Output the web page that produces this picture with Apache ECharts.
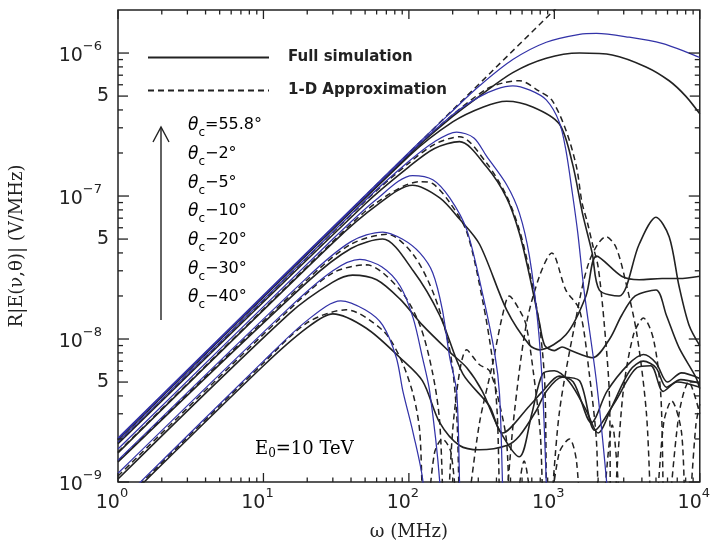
<!DOCTYPE html>
<html>
<head>
<meta charset="utf-8">
<script src="https://cdn.jsdelivr.net/npm/echarts/dist/echarts.min.js"></script>
<style>
  html, body { margin: 0; padding: 0; background: #fff; }
  #chart { width: 713px; height: 546px; }
</style>
</head>
<body>
<div id="chart"></div>
<script>
// Electric field spectrum R|E(nu,theta)| versus frequency, E0 = 10 TeV shower.
// Each observation angle has three curves: full simulation (solid black),
// 1-D approximation (dashed black) and a thin blue parametrisation.

const angles = ['55.8', '2', '5', '10', '20', '30', '40'];
const angleTexts = ['=55.8°', '−2°', '−5°', '−10°', '−20°', '−30°', '−40°'];

// [frequency (MHz), field (V/MHz)]
const sim_558 = [[1,2.0e-9],[100,1.95e-7],[200,3.6e-7],[306,5.0e-7],[518,7.3e-7],[880,9.2e-7],[1490,1.0e-6],[2500,9.7e-7],[4270,8.0e-7],[6160,6.4e-7],[8000,5.0e-7],[10000,3.76e-7]];
const oneD_558 = [[1,2.0e-9],[1000,2.0e-6],[1300,2.6e-6]];
const par_558 = [[1,2.03e-9],[100,2.02e-7],[200,3.95e-7],[306,5.9e-7],[518,9.0e-7],[880,1.19e-6],[1490,1.35e-6],[1950,1.37e-6],[3270,1.29e-6],[5500,1.17e-6],[8440,1.0e-6],[10000,0.93e-6]];

const sim_2 = [[1,1.97e-9],[100,1.9e-7],[200,3.3e-7],[325,4.2e-7],[470,4.6e-7],[710,4.2e-7],[1080,3.2e-7],[1330,1.7e-7],[1560,7.6e-8],[1820,4.0e-8],[2040,2.2e-8],[2790,2.0e-8],[3830,4.6e-8],[5000,7.1e-8],[6160,5.2e-8],[7200,2.35e-8],[8440,1.25e-8],[10000,9.0e-9]];
const oneD_2 = [[1,1.97e-9],[100,1.95e-7],[200,3.7e-7],[342,5.6e-7],[450,6.2e-7],[575,6.4e-7],[790,5.4e-7],[960,4.7e-7],[1200,2.9e-7],[1420,1.6e-7],[1550,9.0e-8],[1690,6.5e-8],[1830,4.6e-8],[2000,3.2e-8],[2200,1.3e-8],[2390,4.1e-9],[2470,4e-10],[2960,4.1e-9],[3500,1.07e-8],[4100,1.4e-8],[4800,1.0e-8],[5400,4.0e-9],[5800,4e-10],[7200,3.0e-9],[8400,5.0e-9],[10000,3.0e-9]];
const par_2 = [[1,2.0e-9],[100,1.97e-7],[200,3.7e-7],[300,4.9e-7],[400,5.6e-7],[518,5.9e-7],[680,5.5e-7],[880,4.7e-7],[1080,3.3e-7],[1200,2.1e-7],[1330,1.05e-7],[1450,5.5e-8],[1600,2.2e-8],[1950,5.0e-9],[2270,1.1e-9],[2450,4e-10]];

const sim_5 = [[1,1.85e-9],[50,8.8e-8],[100,1.6e-7],[150,2.15e-7],[223,2.4e-7],[342,1.6e-7],[470,9.7e-8],[575,5.5e-8],[674,2.8e-8],[790,1.3e-8],[860,9.0e-9],[1000,8.3e-9],[1130,8.8e-9],[1300,8.3e-9],[1830,7.4e-9],[2400,1.0e-8],[2900,1.46e-8],[3600,2.0e-8],[5000,2.2e-8],[5900,1.46e-8],[7200,8.7e-9],[9400,5.4e-9],[10000,4.5e-9]];
const oneD_5 = [[1,1.88e-9],[50,9.2e-8],[100,1.7e-7],[150,2.3e-7],[223,2.6e-7],[342,1.7e-7],[470,1.0e-7],[575,5.8e-8],[674,3.0e-8],[790,1.25e-8],[860,4.8e-9],[905,4e-10],[1080,3.0e-9],[1380,1.25e-8],[1740,3.5e-8],[2270,5.2e-8],[2650,4.4e-8],[3100,2.5e-8],[3700,1.07e-8],[4300,3.0e-9],[4800,4e-10],[5650,2.6e-9],[6400,3.7e-9],[7500,2.2e-9],[8100,4e-10],[9400,2.5e-9],[10000,3.5e-9]];
const par_5 = [[1,1.9e-9],[50,9.3e-8],[100,1.75e-7],[150,2.4e-7],[213,2.8e-7],[280,2.55e-7],[342,1.9e-7],[470,1.2e-7],[575,7.6e-8],[674,3.8e-8],[770,1.3e-8],[830,4.5e-9],[880,1.0e-9],[910,3e-10]];

const sim_10 = [[1,1.6e-9],[30,4.7e-8],[60,8.6e-8],[106,1.19e-7],[163,9.7e-8],[223,6.9e-8],[306,4.6e-8],[470,1.6e-8],[674,9.1e-9],[790,8.4e-9],[1200,1.07e-8],[1650,2.0e-8],[1950,3.8e-8],[2900,2.75e-8],[3830,2.6e-8],[5500,2.65e-8],[7200,2.65e-8],[10000,2.75e-8]];
const oneD_10 = [[1,1.62e-9],[30,4.8e-8],[60,9.0e-8],[119,1.26e-7],[146,1.22e-7],[191,9.0e-8],[250,5.6e-8],[320,1.9e-8],[375,7.2e-9],[405,3.0e-9],[435,4e-10],[530,3.0e-9],[640,1.25e-8],[790,2.75e-8],[960,4.0e-8],[1200,2.2e-8],[1490,1.6e-8],[1740,5.7e-9],[1950,1.9e-9],[2050,4e-10],[2500,2.5e-9],[2900,4e-10]];
const par_10 = [[1,1.7e-9],[30,5.0e-8],[60,9.5e-8],[106,1.39e-7],[146,1.3e-7],[191,9.7e-8],[250,5.8e-8],[320,2.1e-8],[390,7.8e-9],[420,4.1e-9],[440,1.0e-9],[455,3e-10]];

const sim_20 = [[1,1.38e-9],[20,2.5e-8],[40,4.3e-8],[66,5.0e-8],[107,3.0e-8],[163,1.46e-8],[235,5.7e-9],[358,3.4e-9],[440,2.2e-9],[674,3.4e-9],[830,4.3e-9],[1080,5.5e-9],[1350,5.0e-9],[1800,2.6e-9],[2300,4.3e-9],[3200,6.6e-9],[4100,7.8e-9],[5000,6.8e-9],[6000,5.0e-9],[7500,5.8e-9],[10000,5.3e-9]];
const oneD_20 = [[1,1.4e-9],[20,2.6e-8],[40,4.6e-8],[71,5.4e-8],[107,3.9e-8],[150,2.0e-8],[191,8.4e-9],[213,3.0e-9],[232,4e-10],[306,2.6e-9],[375,6.6e-9],[440,1.46e-8],[490,2.0e-8],[575,1.6e-8],[640,1.25e-8],[720,5.7e-9],[800,2.2e-9],[870,4e-10],[1080,1.6e-9],[1270,2.0e-9],[1420,1.4e-9],[1530,4e-10]];
const par_20 = [[1,1.42e-9],[20,2.7e-8],[40,4.8e-8],[66,5.6e-8],[90,5.0e-8],[119,4.0e-8],[146,2.9e-8],[170,1.6e-8],[191,7.4e-9],[213,4.3e-9],[223,1.0e-9],[230,3e-10]];

const sim_30 = [[1,1.05e-9],[15,1.5e-8],[30,2.5e-8],[41,2.8e-8],[60,2.6e-8],[87,1.9e-8],[124,1.25e-8],[191,8.1e-9],[250,6.3e-9],[320,4.3e-9],[420,2.3e-9],[575,1.5e-9],[700,3.0e-9],[830,5.7e-9],[1000,6.0e-9],[1270,5.0e-9],[1650,3.2e-9],[2000,2.2e-9],[2500,3.4e-9],[3300,6.0e-9],[4100,7.0e-9],[5000,6.3e-9],[5900,4.6e-9],[7400,5.2e-9],[10000,4.9e-9]];
const oneD_30 = [[1,1.1e-9],[15,1.6e-8],[30,2.9e-8],[51,3.3e-8],[87,2.2e-8],[119,1.25e-8],[146,5.7e-9],[163,2.6e-9],[178,4e-10],[205,3.0e-9],[250,8.4e-9],[306,6.6e-9],[358,6.0e-9],[420,3.5e-9],[470,1.9e-9],[510,4e-10],[620,1.4e-9],[730,4e-10]];
const par_30 = [[1,1.15e-9],[15,1.65e-8],[30,3.0e-8],[46,3.6e-8],[65,3.2e-8],[87,2.35e-8],[107,1.4e-8],[124,7.4e-9],[139,4.3e-9],[163,1.0e-9],[170,3e-10]];

const sim_40 = [[1,6.6e-10],[10,6.5e-9],[20,1.2e-8],[30,1.5e-8],[51,1.19e-8],[87,7.4e-9],[124,5.1e-9],[163,2.6e-9],[223,1.8e-9],[306,1.68e-9],[470,1.8e-9],[575,2.1e-9],[750,3.15e-9],[880,4.3e-9],[1130,5.4e-9],[1490,5.1e-9],[1900,2.3e-9],[2600,3.6e-9],[3700,6.3e-9],[4600,6.5e-9],[5600,4.3e-9],[7000,5.0e-9],[10000,4.6e-9]];
const oneD_40 = [[1,6.8e-10],[10,6.8e-9],[20,1.3e-8],[37,1.6e-8],[66,1.15e-8],[87,7.4e-9],[107,4.1e-9],[119,2.2e-9],[128,4e-10],[150,1.6e-9],[170,2.0e-9],[195,1.6e-9],[220,4e-10]];
const par_40 = [[1,7.0e-10],[10,7.0e-9],[20,1.35e-8],[34,1.85e-8],[50,1.6e-8],[66,1.25e-8],[82,7.4e-9],[91,4.3e-9],[107,2.2e-9],[125,1.0e-9],[132,3e-10]];

const simCurves = [sim_558, sim_2, sim_5, sim_10, sim_20, sim_30, sim_40];
const oneDCurves = [oneD_558, oneD_2, oneD_5, oneD_10, oneD_20, oneD_30, oneD_40];
const parCurves = [par_558, par_2, par_5, par_10, par_20, par_30, par_40];

// Axis ranges and tick positions
const xMin = 1, xMax = 1e4;
const yMin = 1e-9, yMax = 2e-6;
const xMajorTicks = [1, 10, 100, 1000, 10000];
const yMajorTicks = [1e-9, 1e-8, 1e-7, 1e-6];
const yFiveTicks = [5e-9, 5e-8, 5e-7];

const INK = '#222';
const BLUE = '#3333a8';
const tickFont = 'DejaVu Sans';
const serifFont = 'DejaVu Serif';

// tick descriptors for the framed axes (ticks on all four sides)
const ticks = [];
xMajorTicks.forEach(v => ticks.push({ axis: 'x', v: v, len: 9 }));
for (let k = 0; k < 4; k++) {
  for (let m = 2; m <= 9; m++) ticks.push({ axis: 'x', v: m * Math.pow(10, k), len: 4.5 });
}
yMajorTicks.forEach(v => ticks.push({ axis: 'y', v: v, len: 11 }));
yFiveTicks.forEach(v => ticks.push({ axis: 'y', v: v, len: 10, label: '5' }));
for (let e = -9; e <= -7; e++) {
  [2, 3, 4, 6, 7, 8, 9].forEach(m => ticks.push({ axis: 'y', v: m * Math.pow(10, e), len: 5 }));
}

function renderTick(params, api) {
  const t = ticks[params.dataIndex];
  const cs = params.coordSys;
  const st = { stroke: INK, lineWidth: 1.3 };
  if (t.axis === 'x') {
    const px = api.coord([t.v, yMin])[0];
    const yb = cs.y + cs.height, yt = cs.y;
    return { type: 'group', children: [
      { type: 'line', shape: { x1: px, y1: yb, x2: px, y2: yb - t.len }, style: st },
      { type: 'line', shape: { x1: px, y1: yt, x2: px, y2: yt + t.len }, style: st }
    ] };
  }
  const py = api.coord([xMin, t.v])[1];
  const xl = cs.x, xr = cs.x + cs.width;
  const children = [
    { type: 'line', shape: { x1: xl, y1: py, x2: xl + t.len, y2: py }, style: st },
    { type: 'line', shape: { x1: xr, y1: py, x2: xr - t.len, y2: py }, style: st }
  ];
  if (t.label) {
    children.push({ type: 'text', x: xl - 9, y: py,
      style: { text: t.label, fill: INK, font: '19px "' + tickFont + '"',
               align: 'right', verticalAlign: 'middle', textAlign: 'right', textVerticalAlign: 'middle' } });
  }
  return { type: 'group', children: children };
}

function powerLabel(v) {
  const e = Math.log10(v);
  const r = Math.round(e);
  if (Math.abs(e - r) > 0.01) return '';
  return '{b|10}{e|' + String(r).replace('-', '−') + '}';
}
const powerRich = {
  b: { fontSize: 19, fontFamily: tickFont, color: INK, lineHeight: 26, verticalAlign: 'bottom' },
  e: { fontSize: 13, fontFamily: tickFont, color: INK, lineHeight: 14, verticalAlign: 'top' }
};

const series = [];
angles.forEach((a, i) => {
  series.push({
    name: 'Full simulation', type: 'line', data: simCurves[i],
    symbol: 'none', smooth: 0.3, z: 3, silent: true,
    lineStyle: { color: INK, width: 1.6 }, itemStyle: { color: INK }
  });
  series.push({
    name: '1-D Approximation', type: 'line', data: oneDCurves[i],
    symbol: 'none', smooth: 0.3, z: 3, silent: true,
    lineStyle: { color: INK, width: 1.5, type: [6, 4] }, itemStyle: { color: INK }
  });
  series.push({
    name: 'param ' + a, type: 'line', data: parCurves[i],
    symbol: 'none', smooth: 0.3, z: 4, silent: true,
    lineStyle: { color: BLUE, width: 1.25 }, itemStyle: { color: BLUE }
  });
});
series.push({
  type: 'custom', renderItem: renderTick, silent: true, z: 6,
  data: ticks.map(t => [t.axis === 'x' ? t.v : xMin, t.axis === 'y' ? t.v : yMin])
});

// angle labels beside the arrow
const angleY = [128, 157, 186, 214, 243, 272, 300];
const graphics = [
  { type: 'line', shape: { x1: 161, y1: 320, x2: 161, y2: 128 }, style: { stroke: INK, lineWidth: 1.4 } },
  { type: 'polyline', shape: { points: [[153, 142], [161, 127], [169, 142]] }, style: { stroke: INK, lineWidth: 1.4, fill: null } },
  { type: 'text', x: 255, y: 450, style: {
      text: '{m|E}{s|0}{m|=10 TeV}', verticalAlign: 'middle',
      rich: {
        m: { fontSize: 18, fontFamily: serifFont, color: INK, lineHeight: 20, verticalAlign: 'top' },
        s: { fontSize: 12, fontFamily: serifFont, color: INK, lineHeight: 12, verticalAlign: 'bottom' }
      } } }
];
angleTexts.forEach((txt, i) => {
  graphics.push({ type: 'text', x: 188, y: angleY[i], style: {
    text: '{t|θ}{c|c}{r|' + txt + '}', verticalAlign: 'middle',
    rich: {
      t: { fontSize: 17, fontFamily: tickFont, fontStyle: 'italic', color: INK, lineHeight: 22, verticalAlign: 'top' },
      c: { fontSize: 12, fontFamily: tickFont, color: INK, lineHeight: 12, verticalAlign: 'bottom' },
      r: { fontSize: 16, fontFamily: tickFont, color: INK, lineHeight: 22, verticalAlign: 'top' }
    } } });
});

const chart = echarts.init(document.getElementById('chart'), null, { renderer: 'canvas' });
chart.setOption({
  animation: false,
  backgroundColor: '#fff',
  grid: { left: 117, right: 13, top: 10, bottom: 56, show: true, borderColor: INK, borderWidth: 1.5, backgroundColor: 'transparent' },
  legend: {
    data: ['Full simulation', '1-D Approximation'],
    orient: 'vertical', left: 142, top: 45,
    itemWidth: 121, itemHeight: 16, itemGap: 18,
    selectedMode: false,
    itemStyle: { opacity: 0 },
    textStyle: { fontFamily: tickFont, fontWeight: 'bold', fontSize: 15, color: INK, padding: [0, 0, 0, 14] }
  },
  xAxis: {
    type: 'log', logBase: 10, min: xMin, max: xMax,
    name: 'ω (MHz)', nameLocation: 'middle', nameGap: 41,
    nameTextStyle: { fontFamily: serifFont, fontSize: 18, color: INK },
    axisLine: { show: false }, axisTick: { show: false }, splitLine: { show: false },
    axisLabel: { margin: 5, formatter: powerLabel, rich: powerRich, padding: [0, 12, 0, 0] }
  },
  yAxis: {
    type: 'log', logBase: 10, min: yMin, max: yMax,
    name: 'R|E(ν,θ)| (V/MHz)', nameLocation: 'middle', nameGap: 92, nameRotate: 90,
    nameTextStyle: { fontFamily: serifFont, fontSize: 18, color: INK },
    axisLine: { show: false }, axisTick: { show: false }, splitLine: { show: false },
    axisLabel: { margin: 16, formatter: powerLabel, rich: powerRich, showMaxLabel: false }
  },
  graphic: graphics,
  series: series
});
</script>
</body>
</html>
